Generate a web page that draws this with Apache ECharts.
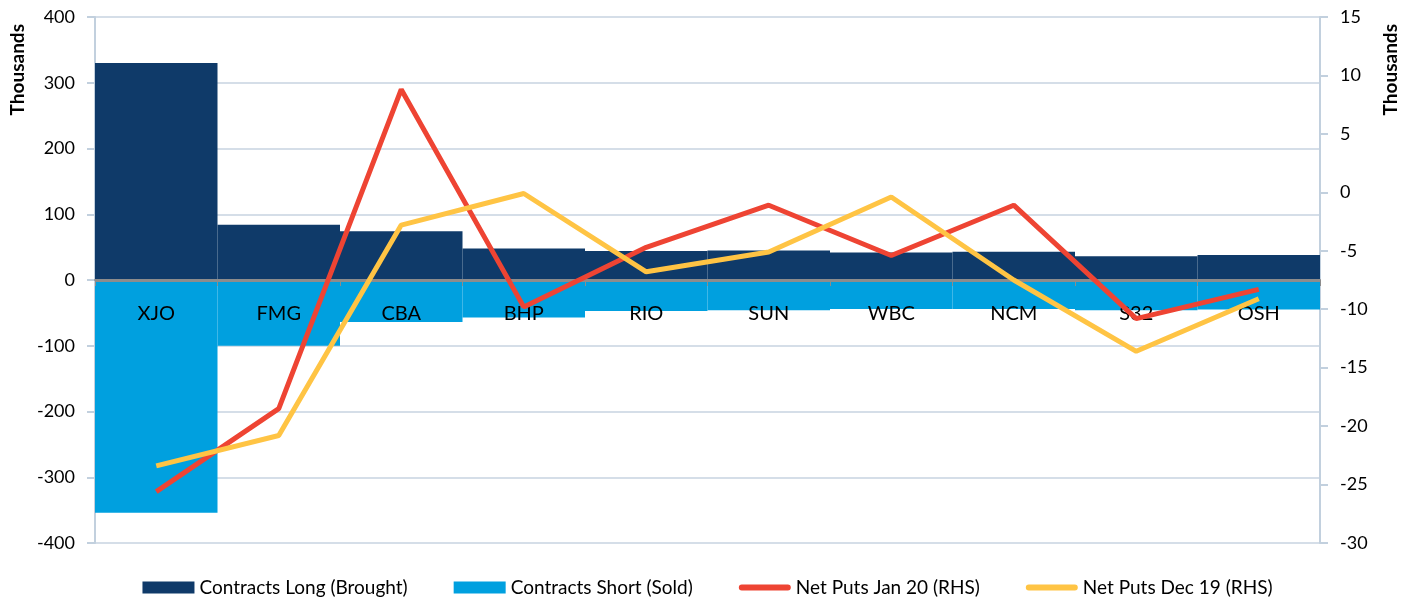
<!DOCTYPE html>
<html>
<head>
<meta charset="UTF-8">
<script src="https://cdn.jsdelivr.net/npm/echarts@6/dist/echarts.min.js"></script>
<style>
  * { margin: 0; padding: 0; }
  #main { width: 1415px; height: 603px; background: #fff; }
</style>
</head>
<body>
<div id="main"></div>
<script>
    // categories and values (thousands)
    var codes = ['XJO', 'FMG', 'CBA', 'BHP', 'RIO', 'SUN', 'WBC', 'NCM', 'S32', 'OSH'];
    var longBrought = [330, 84, 74, 48, 44, 45, 42, 43, 36, 38];
    var shortSold = [-354, -100, -64, -57, -47, -46, -44, -44, -46, -45];
    var netPutsJan20 = [-25.6, -18.5, 8.8, -9.8, -4.7, -1.1, -5.4, -1.1, -10.8, -8.3];
    var netPutsDec19 = [-23.4, -20.8, -2.8, -0.1, -6.8, -5.1, -0.4, -7.5, -13.6, -9.1];

    var font = 'Lato, "Noto Sans", sans-serif';
    // thin rounded line for the line-series legend keys (padded so it stays thin)
    var lineIcon = 'path://M0,0 L0.01,0 L0,0.01 Z M0,12 L0.01,12 L0,11.99 Z M3,3 L49,3 A3,3 0 0 1 49,9 L3,9 A3,3 0 0 1 3,3 Z';

    var chart = echarts.init(document.getElementById('main'));

    var option = {
        animation: false,
        textStyle: { fontFamily: font, color: '#000' },
        grid: { left: 95, right: 95, top: 17, bottom: 60 },
        legend: {
            bottom: 1,
            left: 'center',
            itemWidth: 52,
            itemHeight: 12,
            itemGap: 46,
            textStyle: { fontSize: 19, color: '#000', fontFamily: font },
            data: [
                { name: 'Contracts Long (Brought)', icon: 'rect' },
                { name: 'Contracts Short (Sold)', icon: 'rect' },
                { name: 'Net Puts Jan 20 (RHS)', icon: lineIcon },
                { name: 'Net Puts Dec 19 (RHS)', icon: lineIcon }
            ]
        },
        graphic: [
            {
                type: 'text', left: 8, top: 24, rotation: Math.PI / 2,
                style: { text: 'Thousands', font: 'bold 19px ' + font, fill: '#000' }
            },
            {
                type: 'text', right: 15, top: 24, rotation: Math.PI / 2,
                style: { text: 'Thousands', font: 'bold 19px ' + font, fill: '#000' }
            }
        ],
        xAxis: {
            type: 'category',
            data: codes,
            z: 4,
            offset: -263,
            axisLine: { show: true, onZero: false, lineStyle: { color: '#8c8c8c', width: 2 } },
            axisTick: { show: true, length: 6, lineStyle: { color: '#8c8c8c' } },
            axisLabel: { margin: 24, fontSize: 20, color: '#000', fontFamily: font }
        },
        yAxis: [
            {
                type: 'value',
                min: -400, max: 400, interval: 100,
                axisLine: { show: true, lineStyle: { color: '#c2d0de', width: 2 } },
                axisTick: { show: true, length: 8, lineStyle: { color: '#c2d0de', width: 2 } },
                axisLabel: { fontSize: 18, color: '#000', margin: 20, fontFamily: font },
                splitLine: { lineStyle: { color: '#d5dee8', width: 2 } }
            },
            {
                type: 'value',
                min: -30, max: 15, interval: 5,
                axisLine: { show: true, lineStyle: { color: '#c2d0de', width: 2 } },
                axisTick: { show: true, length: 8, lineStyle: { color: '#c2d0de', width: 2 } },
                axisLabel: { fontSize: 18, color: '#000', margin: 20, fontFamily: font },
                splitLine: { show: false }
            }
        ],
        series: [
            {
                name: 'Contracts Long (Brought)',
                type: 'bar',
                stack: 'c',
                barWidth: '100%',
                itemStyle: { color: '#0f3a69' },
                data: longBrought,
                // grey zero line across the plot
                markLine: {
                    silent: true,
                    symbol: 'none',
                    label: { show: false },
                    lineStyle: { color: '#8c8c8c', width: 3, type: 'solid' },
                    data: [{ yAxis: 0 }]
                }
            },
            {
                name: 'Contracts Short (Sold)',
                type: 'bar',
                stack: 'c',
                barWidth: '100%',
                itemStyle: { color: '#00a0df' },
                data: shortSold
            },
            {
                name: 'Net Puts Jan 20 (RHS)',
                type: 'line',
                yAxisIndex: 1,
                z: 5,
                symbol: 'none',
                lineStyle: { color: '#ee4433', width: 5 },
                itemStyle: { color: '#ee4433' },
                data: netPutsJan20
            },
            {
                name: 'Net Puts Dec 19 (RHS)',
                type: 'line',
                yAxisIndex: 1,
                z: 5,
                symbol: 'none',
                lineStyle: { color: '#ffc444', width: 5 },
                itemStyle: { color: '#ffc444' },
                data: netPutsDec19
            }
        ]
    };

    chart.setOption(option);
</script>
</body>
</html>
